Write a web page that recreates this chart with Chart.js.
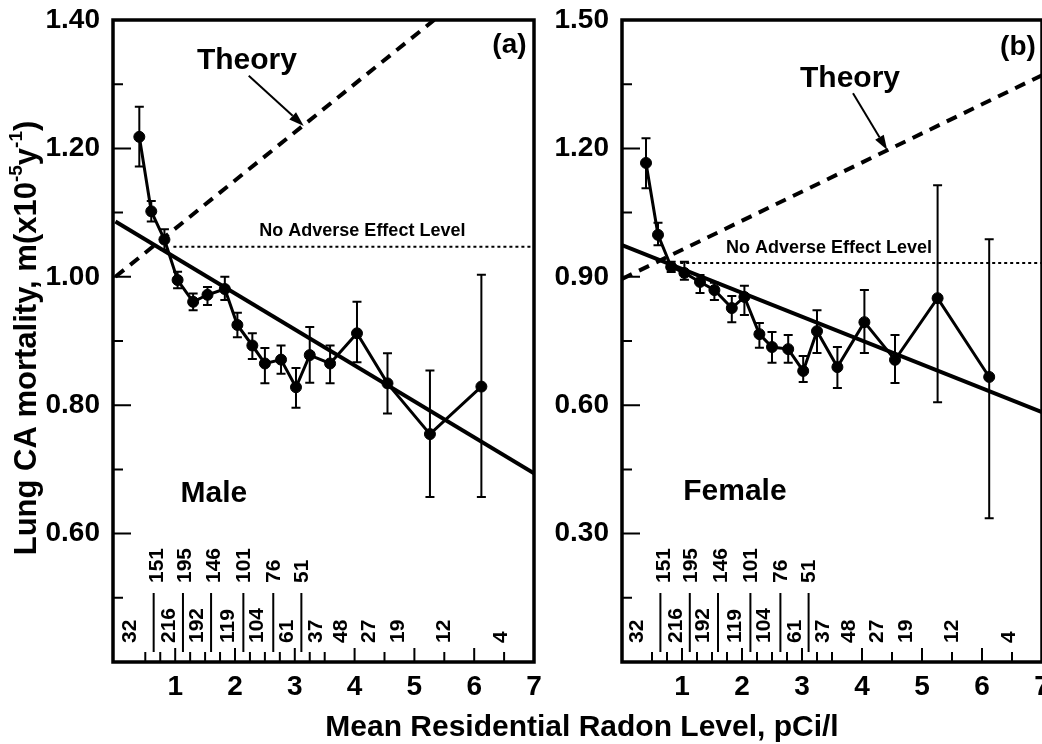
<!DOCTYPE html>
<html>
<head>
<meta charset="utf-8">
<script src="https://cdn.jsdelivr.net/npm/chart.js@4.4.0/dist/chart.umd.min.js"></script>
<style>
  html, body { margin: 0; padding: 0; background: #fff; overflow: hidden; }
  body { width: 1042px; height: 744px; position: relative; }
  #maleChart { position: absolute; left: 0; top: 0; }
  #femaleChart { position: absolute; left: 545px; top: 0; }
  #xTitle {
    position: absolute; left: 282px; width: 600px; top: 709px;
    text-align: center; line-height: 30px; color: #000;
    font: bold 30px "Liberation Sans", Arial, Helvetica, sans-serif;
  }
</style>
</head>
<body>
<canvas id="maleChart" width="545" height="744"></canvas>
<canvas id="femaleChart" width="540" height="744"></canvas>
<div id="xTitle">Mean Residential Radon Level, pCi/l</div>
<script>
// bin means (pCi/l), same bins for both sexes
const radonLevels = [0.40, 0.60, 0.82, 1.04, 1.30, 1.54, 1.83, 2.04, 2.29, 2.50, 2.77, 3.02, 3.25, 3.59, 4.04, 4.55, 5.26, 6.12];

const maleRate = [1.218, 1.102, 1.058, 0.995, 0.961, 0.972, 0.981, 0.925, 0.893, 0.865, 0.871, 0.828, 0.878, 0.865, 0.912, 0.834, 0.755, 0.829];
const maleHigh = [1.265, 1.118, 1.074, 1.008, 0.974, 0.984, 1.000, 0.944, 0.912, 0.889, 0.893, 0.858, 0.922, 0.893, 0.961, 0.881, 0.854, 1.003];
const maleLow = [1.172, 1.086, 1.042, 0.982, 0.948, 0.956, 0.964, 0.906, 0.872, 0.834, 0.849, 0.796, 0.835, 0.834, 0.867, 0.787, 0.657, 0.657];

const femaleRate = [1.166, 0.998, 0.923, 0.909, 0.888, 0.869, 0.827, 0.853, 0.766, 0.736, 0.731, 0.680, 0.773, 0.689, 0.794, 0.706, 0.850, 0.666];
const femaleHigh = [1.224, 1.026, 0.935, 0.935, 0.904, 0.886, 0.855, 0.879, 0.792, 0.771, 0.764, 0.715, 0.822, 0.736, 0.869, 0.764, 1.114, 0.988];
const femaleLow = [1.107, 0.974, 0.911, 0.893, 0.862, 0.846, 0.794, 0.811, 0.734, 0.699, 0.699, 0.654, 0.722, 0.640, 0.722, 0.652, 0.607, 0.336];

// fitted and theory lines (two end points each)
const fitX = [0, 7];
const maleFit = [1.086, 0.694];
const femaleFit = [0.974, 0.584];
const maleTheoryX = [0, 5.33];
const maleTheory = [1.0, 1.40];
const femaleTheoryX = [0, 7];
const femaleTheory = [0.895, 1.371];
const naelX = [0.97, 7];
const maleNael = 1.047;
const femaleNael = 0.932;

// number of counties per bin
const binEdges = [0.64, 1.13, 1.60, 2.14, 2.64, 3.11];
const upperCounts = ['151', '195', '146', '101', '76', '51'];
const upperCountX = [0.70, 1.16, 1.65, 2.15, 2.65, 3.12];
const lowerCounts = ['32', '216', '192', '119', '104', '61', '37', '48', '27', '19', '12', '4'];
const lowerCountX = [0.25, 0.90, 1.36, 1.88, 2.37, 2.88, 3.36, 3.78, 4.25, 4.73, 5.50, 6.45];

// tick marks
const xTickValues = [0.5, 0.75, 1, 1.25, 1.5, 1.75, 2, 2.25, 2.5, 2.75, 3, 3.25, 3.5, 4, 4.5, 5, 5.5, 6, 6.5];
const maleMajorY = [0.6, 0.8, 1.0, 1.2];
const maleMinorY = [0.5, 0.7, 0.9, 1.1, 1.3];
const femaleMajorY = [0.3, 0.6, 0.9, 1.2];
const femaleMinorY = [0.15, 0.45, 0.75, 1.05, 1.35];

const FONT = '"Liberation Sans", Arial, Helvetica, sans-serif';
Chart.defaults.font.family = FONT;
Chart.defaults.color = '#000';

function toPoints(xs, ys) {
  return xs.map((x, i) => ({ x: x, y: ys[i] }));
}

function drawArrow(ctx, x1, y1, x2, y2) {
  const ang = Math.atan2(y2 - y1, x2 - x1);
  const head = 15;
  const half = 5;
  const bx = x2 - head * Math.cos(ang);
  const by = y2 - head * Math.sin(ang);
  ctx.beginPath();
  ctx.moveTo(x1, y1);
  ctx.lineTo(bx, by);
  ctx.stroke();
  ctx.beginPath();
  ctx.moveTo(x2, y2);
  ctx.lineTo(bx + half * Math.sin(ang), by - half * Math.cos(ang));
  ctx.lineTo(bx - half * Math.sin(ang), by + half * Math.cos(ang));
  ctx.closePath();
  ctx.fill();
}

function drawUpText(ctx, text, x, y, size) {
  ctx.save();
  ctx.translate(x, y);
  ctx.rotate(-Math.PI / 2);
  ctx.font = 'bold ' + size + 'px ' + FONT;
  ctx.textAlign = 'left';
  ctx.textBaseline = 'middle';
  ctx.fillText(text, 0, 0);
  ctx.restore();
}

function drawYTitle(ctx, cx, cy) {
  const parts = [
    { t: 'Lung CA mortality, m(x10', sup: false },
    { t: '-5', sup: true },
    { t: 'y', sup: false },
    { t: '-1', sup: true },
    { t: ')', sup: false }
  ];
  const big = 'bold 31px ' + FONT;
  const small = 'bold 19px ' + FONT;
  let total = 0;
  parts.forEach((p) => {
    ctx.font = p.sup ? small : big;
    p.w = ctx.measureText(p.t).width;
    total += p.w;
  });
  ctx.save();
  ctx.translate(cx, cy);
  ctx.rotate(-Math.PI / 2);
  ctx.textAlign = 'left';
  ctx.textBaseline = 'middle';
  let pos = -total / 2;
  parts.forEach((p) => {
    ctx.font = p.sup ? small : big;
    ctx.fillText(p.t, pos, p.sup ? -10 : 0);
    pos += p.w;
  });
  ctx.restore();
}

function panelPlugin(panel) {
  return {
    id: 'panel_' + panel.name,
    beforeDatasetsDraw(chart) {
      const ctx = chart.ctx;
      const xs = chart.scales.x;
      const ys = chart.scales.y;
      ctx.save();
      ctx.strokeStyle = '#000';
      ctx.lineWidth = 2;
      radonLevels.forEach((x, i) => {
        const px = xs.getPixelForValue(x);
        const top = ys.getPixelForValue(panel.high[i]);
        const bot = ys.getPixelForValue(panel.low[i]);
        ctx.beginPath();
        ctx.moveTo(px, top);
        ctx.lineTo(px, bot);
        ctx.moveTo(px - 4.5, top);
        ctx.lineTo(px + 4.5, top);
        ctx.moveTo(px - 4.5, bot);
        ctx.lineTo(px + 4.5, bot);
        ctx.stroke();
      });
      ctx.restore();
    },
    afterDraw(chart) {
      const ctx = chart.ctx;
      const area = chart.chartArea;
      const xs = chart.scales.x;
      const ys = chart.scales.y;
      ctx.save();
      ctx.strokeStyle = '#000';
      ctx.fillStyle = '#000';

      // inward ticks
      ctx.lineWidth = 2;
      ctx.beginPath();
      panel.majorY.forEach((v) => {
        const py = ys.getPixelForValue(v);
        ctx.moveTo(area.left, py);
        ctx.lineTo(area.left + 18, py);
      });
      panel.minorY.forEach((v) => {
        const py = ys.getPixelForValue(v);
        ctx.moveTo(area.left, py);
        ctx.lineTo(area.left + 10, py);
      });
      xTickValues.forEach((v) => {
        const px = xs.getPixelForValue(v);
        const len = Number.isInteger(v) ? 14 : 10;
        ctx.moveTo(px, area.bottom);
        ctx.lineTo(px, area.bottom - len);
      });
      ctx.stroke();

      // bin separators and counts
      ctx.beginPath();
      binEdges.forEach((v) => {
        const px = xs.getPixelForValue(v);
        ctx.moveTo(px, area.bottom - 10);
        ctx.lineTo(px, area.bottom - 69);
      });
      ctx.stroke();
      upperCounts.forEach((t, i) => {
        drawUpText(ctx, t, xs.getPixelForValue(upperCountX[i]), area.bottom - 79, 21);
      });
      lowerCounts.forEach((t, i) => {
        drawUpText(ctx, t, xs.getPixelForValue(lowerCountX[i]), area.bottom - 19, 21);
      });

      // frame
      ctx.lineWidth = 3.5;
      ctx.strokeRect(area.left, area.top, area.right - area.left, area.bottom - area.top);

      // annotations
      ctx.textBaseline = 'alphabetic';
      ctx.font = 'bold 30px ' + FONT;
      ctx.textAlign = 'center';
      ctx.fillText('Theory', xs.getPixelForValue(panel.theoryText[0]), ys.getPixelForValue(panel.theoryText[1]));
      ctx.font = 'bold 28px ' + FONT;
      ctx.fillText(panel.tag, xs.getPixelForValue(panel.tagPos[0]), ys.getPixelForValue(panel.tagPos[1]));
      ctx.font = 'bold 18px ' + FONT;
      ctx.fillText('No Adverse Effect Level', xs.getPixelForValue(panel.naelText[0]), ys.getPixelForValue(panel.naelText[1]));
      ctx.font = 'bold 30px ' + FONT;
      ctx.textAlign = 'left';
      ctx.fillText(panel.sexText, xs.getPixelForValue(panel.sexPos[0]), ys.getPixelForValue(panel.sexPos[1]));

      ctx.lineWidth = 2;
      drawArrow(ctx,
        xs.getPixelForValue(panel.arrowFrom[0]), ys.getPixelForValue(panel.arrowFrom[1]),
        xs.getPixelForValue(panel.arrowTo[0]), ys.getPixelForValue(panel.arrowTo[1]));

      if (panel.yTitle) {
        drawYTitle(ctx, 27, 338);
      }
      ctx.restore();
    }
  };
}

function makeChart(canvasId, panel) {
  const tickFont = { size: 28, weight: 'bold' };
  const datasets = [
    {
      data: toPoints(radonLevels, panel.rate),
      showLine: true, borderColor: '#000', borderWidth: 3,
      pointRadius: 5.5, pointBackgroundColor: '#000', pointBorderColor: '#000', pointBorderWidth: 1
    },
    {
      data: toPoints(fitX, panel.fit),
      showLine: true, borderColor: '#000', borderWidth: 4, pointRadius: 0
    },
    {
      data: toPoints(panel.theoryX, panel.theory),
      showLine: true, borderColor: '#000', borderWidth: 4, borderDash: [11, 8], pointRadius: 0
    },
    {
      data: toPoints(naelX, [panel.nael, panel.nael]),
      showLine: true, borderColor: '#000', borderWidth: 2, borderDash: [3, 3], pointRadius: 0
    }
  ];
  return new Chart(document.getElementById(canvasId), {
    type: 'scatter',
    data: { datasets: datasets },
    options: {
      responsive: false,
      animation: false,
      layout: { padding: { top: 20, right: panel.padRight, left: 0, bottom: 0 } },
      plugins: { legend: { display: false }, tooltip: { enabled: false } },
      scales: {
        x: {
          type: 'linear', min: panel.xMin, max: 7,
          grid: { display: false, drawTicks: false },
          border: { display: false },
          ticks: {
            stepSize: 1, padding: 8, font: tickFont, color: '#000',
            maxRotation: 0, autoSkip: false,
            callback: (v) => (v <= 0 ? '' : String(v))
          },
          afterFit: (s) => {
            s.height = 82;
            s.paddingLeft = 0;
            s.paddingRight = 0;
          }
        },
        y: {
          type: 'linear', min: panel.yMin, max: panel.yMax,
          grid: { display: false, drawTicks: false },
          border: { display: false },
          ticks: {
            stepSize: panel.yStep, padding: 13, font: tickFont, color: '#000',
            callback: (v) => (Math.abs(v - panel.yMin) < 1e-6 ? '' : v.toFixed(2))
          },
          afterFit: (s) => {
            s.width = panel.yWidth;
            s.paddingTop = 0;
            s.paddingBottom = 0;
          }
        }
      }
    },
    plugins: [panelPlugin(panel)]
  });
}

const malePanel = {
  name: 'male', rate: maleRate, high: maleHigh, low: maleLow,
  fit: maleFit, theoryX: maleTheoryX, theory: maleTheory, nael: maleNael,
  xMin: -0.04, yMin: 0.4, yMax: 1.4, yStep: 0.2, majorY: maleMajorY, minorY: maleMinorY,
  yWidth: 113, padRight: 11,
  theoryText: [2.20, 1.323], arrowFrom: [2.23, 1.313], arrowTo: [3.15, 1.235],
  tag: '(a)', tagPos: [6.59, 1.348], naelText: [4.13, 1.063],
  sexText: 'Male', sexPos: [1.09, 0.650], yTitle: true
};

const femalePanel = {
  name: 'female', rate: femaleRate, high: femaleHigh, low: femaleLow,
  fit: femaleFit, theoryX: femaleTheoryX, theory: femaleTheory, nael: femaleNael,
  xMin: 0, yMin: 0, yMax: 1.5, yStep: 0.3, majorY: femaleMajorY, minorY: femaleMinorY,
  yWidth: 77, padRight: 43,
  theoryText: [3.80, 1.343], arrowFrom: [3.85, 1.329], arrowTo: [4.42, 1.196],
  tag: '(b)', tagPos: [6.60, 1.418], naelText: [3.45, 0.956],
  sexText: 'Female', sexPos: [1.02, 0.379], yTitle: false
};

makeChart('maleChart', malePanel);
makeChart('femaleChart', femalePanel);
</script>
</body>
</html>
